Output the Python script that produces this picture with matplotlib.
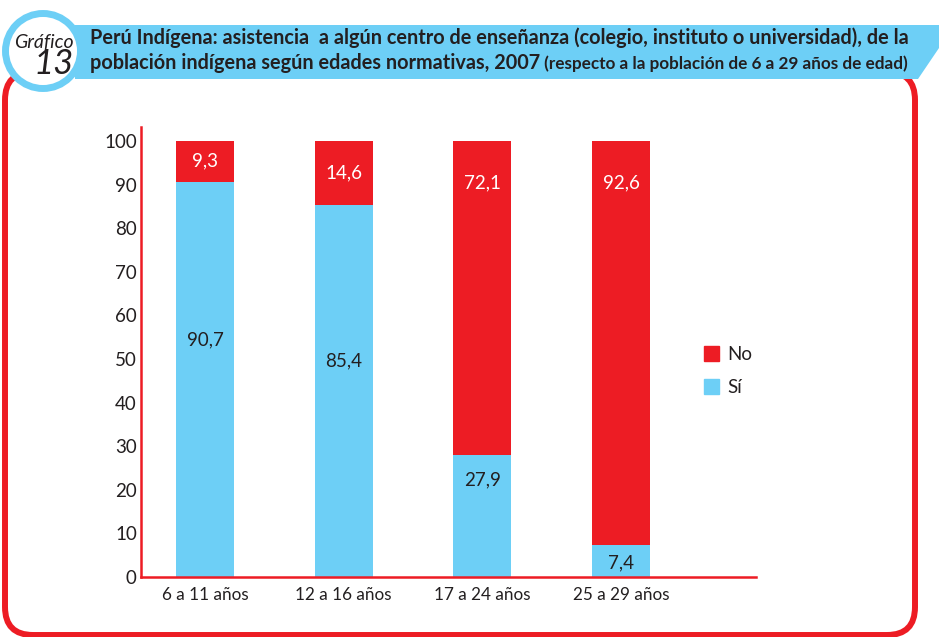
import matplotlib
matplotlib.use("Agg")
import matplotlib.pyplot as plt
from matplotlib.patches import FancyBboxPatch, Polygon, Circle, Patch

# datos (porcentajes)
grupos = ["6 a 11 años", "12 a 16 años", "17 a 24 años", "25 a 29 años"]
si = [90.7, 85.4, 27.9, 7.4]
no = [9.3, 14.6, 72.1, 92.6]
yticks = [0, 10, 20, 30, 40, 50, 60, 70, 80, 90, 100]

titulo1 = "Perú Indígena: asistencia  a algún centro de enseñanza (colegio, instituto o universidad), de la"
titulo2 = "población indígena según edades normativas, 2007"
titulo3 = " (respecto a la población de 6 a 29 años de edad)"

AZUL = "#6dcff6"
ROJO = "#ed1c24"
TEXTO = "#231f20"

plt.rcParams["font.family"] = ["Lato", "DejaVu Sans"]

W, H = 939, 637
fig = plt.figure(figsize=(W / 100, H / 100), dpi=100)

# fondo / decoracion en pixeles
bg = fig.add_axes([0, 0, 1, 1], zorder=0)
bg.set_xlim(0, W)
bg.set_ylim(H, 0)
bg.axis("off")

marco = FancyBboxPatch((5, 72), 910, 563, boxstyle="round,pad=0,rounding_size=28",
                       fill=False, edgecolor=ROJO, linewidth=4.3)
bg.add_patch(marco)
banda = Polygon([(75, 25), (939, 25), (939, 48), (918, 79), (75, 79)],
                closed=True, facecolor=AZUL, edgecolor="none")
bg.add_patch(banda)
bg.add_patch(Circle((43, 51), 37.5, facecolor="white", edgecolor=AZUL, linewidth=5))
bg.text(44, 42, "Gráfico", fontsize=14, style="italic", color=TEXTO,
        ha="center", va="center")
bg.text(74, 64, "13", fontsize=25, style="italic", color=TEXTO,
        ha="right", va="center")

bg.text(90, 38, titulo1, fontsize=14.3, weight="bold", color=TEXTO, va="center")
t2 = bg.text(90, 63, titulo2, fontsize=14.3, weight="bold", color=TEXTO, va="center")
fig.canvas.draw()
ext = t2.get_window_extent()
bg.text(ext.x1, 63.5, titulo3, fontsize=12.3, weight="bold", color=TEXTO, va="center")

# grafico de barras
ax = fig.add_axes([141 / W, 60 / H, 615 / W, 450 / H], zorder=1)
ax.set_facecolor("none")
x = list(range(len(grupos)))
ancho = 0.418
ax.bar(x, si, width=ancho, color=AZUL, label="Sí")
ax.bar(x, no, width=ancho, bottom=si, color=ROJO, label="No")

ax.set_xlim(-0.4615, 3.973)
ax.set_ylim(0, 103.2)
ax.set_yticks(yticks)
ax.set_xticks(x)
ax.set_xticklabels(grupos, fontsize=12.3, color=TEXTO)
ax.tick_params(axis="y", length=0, pad=3, labelsize=13.5, labelcolor=TEXTO)
ax.tick_params(axis="x", length=0, pad=7)
for s in ["top", "right"]:
    ax.spines[s].set_visible(False)
for s in ["left", "bottom"]:
    ax.spines[s].set_color(ROJO)
    ax.spines[s].set_linewidth(1.8)

# etiquetas de valores
frac_si = [0.6, 0.58, 0.8, 0.45]
for i in x:
    ax.text(i, si[i] * frac_si[i], f"{si[i]:.1f}".replace(".", ","), ha="center",
            va="center", fontsize=13.5, color=TEXTO)
    yn = max(si[i] + no[i] / 2, si[i] + no[i] - 9.5)
    ax.text(i, yn, f"{no[i]:.1f}".replace(".", ","), ha="center", va="center",
            fontsize=13.5, color="white")

handles = [Patch(color=ROJO, label="No"), Patch(color=AZUL, label="Sí")]
fig.legend(handles=handles, loc="upper left", bbox_to_anchor=(704 / W, 1 - 346 / H),
           frameon=False, fontsize=13.5, handlelength=0.8, handleheight=0.8,
           handletextpad=0.45, labelspacing=0.85, borderpad=0, borderaxespad=0,
           labelcolor=TEXTO)

fig.savefig("out.png", dpi=100)
